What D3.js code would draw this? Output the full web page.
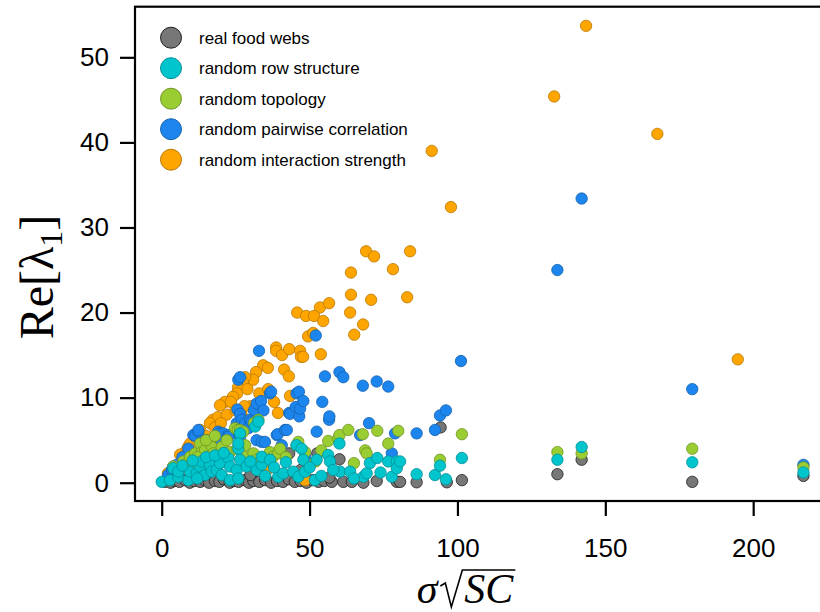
<!DOCTYPE html>
<html>
<head>
<meta charset="utf-8">
<script src="https://cdn.jsdelivr.net/npm/d3@7"></script>
<style>
  body { margin: 0; background: #fff; }
  svg { display: block; }
</style>
</head>
<body>
<div id="chart"></div>
<script>
// ---- data ----
const seriesNames = ["real food webs", "random row structure", "random topology",
                     "random pairwise correlation", "random interaction strength"];
const seriesColors = ["#777777", "#00C5CD", "#9ACD32", "#1C86EE", "#FFA500"];

const realX = [1, 3, 4.5, 6, 8, 9.5, 11, 13, 14.5, 16, 18, 19.5, 21, 23, 24.5, 26, 28, 29.5, 31, 33,
  35, 37, 39, 41, 43, 45, 47, 49, 51, 53, 55, 57.5, 61.4, 64.3, 68.2, 72.7, 79.5, 86.2, 96.4, 101.5,
  43.1, 52.6, 60.1, 56.7, 94.3, 133.8, 142.0, 179.4, 217.0, 47, 30, 80.6];
const realY = [0.1, 0.0, 0.2, 0.1, 0.3, 0.0, 0.2, 0.1, 0.3, 0.0, 0.2, 0.1, 0.4, 0.0, 0.2, 0.1, 0.3, 0.0, 0.2, 0.1,
  0.3, 0.0, 0.2, 0.1, 0.4, 0.1, 0.2, 0.0, 0.3, 0.1, 0.2, 0.1, 0.1, 0.1, 0.0, 0.2, 0.1, 0.05, 0.05, 0.3,
  3.45, 3.45, 2.75, 0.6, 6.5, 1.0, 2.7, 0.1, 0.8, 1.5, 0.9, 0.1];

const rowX = [0.0, 2.8, 3.9, 5.6, 5.6, 9.0, 9.6, 11.8, 13.0, 13.5, 14.6, 16.3, 16.9, 18.6, 19.7, 20.3, 22.5, 23.1,
  23.1, 25.4, 25.9, 25.9, 26.5, 26.5, 28.7, 31.6, 32.7, 32.1, 33.8, 33.8, 36.6, 39.4, 41.1, 44.5, 45.6, 46.2,
  47.3, 47.9, 48.5, 51.8, 52.4, 56.3, 56.9, 60.1, 60.3, 63.7, 68.2, 69.3, 70.4, 72.9, 76.6, 77.8, 79.5, 79.5,
  80.6, 86.2, 92.4, 94.1, 96.1, 101.5, 133.8, 142.0, 179.4, 217.0,
  7, 10.5, 15, 18, 21, 12, 30, 35, 38, 42, 50, 54, 58, 65, 74, 25.9];
const rowY = [0.1, 0.3, 1.7, 0.7, 1.3, 0.3, 1.3, 1.1, 1.9, 2.5, 0.9, 2.1, 1.3, 1.5, 2.3, 0.9, 2.9, 1.9,
  0.3, 1.5, 0.5, 4.0, 2.7, 5.8, 1.9, 6.6, 7.2, 1.5, 2.1, 3.05, 2.7, 0.7, 1.1, 1.3, 4.4, 0.7,
  4.0, 2.7, 1.3, 0.3, 2.7, 3.25, 2.5, 4.6, 1.3, 1.3, 0.7, 1.1, 2.3, 2.9, 2.5, 0.7, 2.5, 1.7,
  2.5, 1.0, 0.9, 2.0, 0.4, 2.9, 2.7, 4.2, 2.4, 1.2,
  2.0, 2.6, 3.0, 3.2, 3.5, 0.5, 2.5, 0.8, 1.8, 2.4, 1.8, 0.8, 1.5, 0.5, 1.2, 4.6];

const topoX = [3.9, 7.3, 8.5, 9.6, 11.3, 13.0, 13.5, 14.6, 16.3, 16.9, 17.5, 20.3, 20.8, 23.1, 24.8, 25.4,
  25.7, 26.5, 27.6, 28.2, 28.7, 31.0, 31.2, 32.1, 32.7, 34.4, 36.6, 37.7, 39.4, 45.6, 46.2, 48.5, 56.3,
  59.7, 60.1, 63.1, 65.0, 68.0, 68.8, 69.3, 72.9, 76.6, 80.0, 94.1, 101.5, 133.8, 142.0, 179.4, 217.0,
  6, 10, 15, 18, 22, 12, 19, 40, 42, 52, 54];
const topoY = [1.9, 2.5, 2.3, 3.05, 3.45, 4.6, 3.6, 3.8, 4.8, 4.2, 3.45, 4.2, 3.45, 3.6, 6.4, 4.0,
  6.2, 6.2, 6.0, 4.4, 3.05, 3.45, 7.0, 2.7, 7.4, 2.9, 3.6, 3.05, 3.45, 4.4, 4.8, 3.6, 4.9,
  5.2, 5.6, 6.2, 2.3, 5.7, 3.8, 3.45, 6.1, 4.6, 6.1, 2.7, 5.7, 3.6, 3.45, 4.0, 1.8,
  1.5, 2.0, 5.0, 5.5, 5.0, 3.0, 2.8, 4.0, 3.0, 2.5, 3.8];

const pairX = [2.2, 3.4, 3.9, 5.1, 10.7, 11.3, 12.4, 12.4, 19.1, 19.7, 20.8, 20.8, 22.5, 22.5, 25.4, 25.4,
  25.6, 25.9, 26.5, 26.5, 26.5, 27.1, 28.2, 29.3, 29.9, 30.4, 31.2, 32.1, 32.1, 32.9, 33.6, 33.8, 34.4,
  34.9, 36.6, 37.0, 38.9, 39.2, 40.6, 41.7, 42.3, 43.1, 43.4, 45.3, 45.6, 46.4, 46.5, 46.8, 47.9, 48.5,
  52.1, 52.4, 54.3, 55.2, 56.6, 56.7, 60.1, 61.4, 67.1, 68.0, 70.1, 72.7, 76.6, 77.8, 78.9, 86.2, 92.4,
  94.1, 96.1, 101.2, 133.8, 142.0, 179.4, 217.0, 7, 9, 15, 17];
const pairY = [0.9, 1.5, 1.9, 2.1, 5.6, 5.5, 6.0, 6.2, 6.0, 5.8, 5.0, 5.8, 5.6, 5.4, 6.6, 7.0,
  8.6, 12.1, 12.4, 5.4, 8.1, 7.4, 7.0, 6.4, 7.4, 7.2, 8.5, 9.3, 5.0, 15.5, 9.6, 4.8, 8.5,
  4.8, 10.5, 10.7, 5.6, 5.7, 4.4, 6.2, 6.2, 8.2, 8.1, 8.9, 10.5, 10.7, 7.8, 8.7, 9.6, 3.05,
  17.3, 6.0, 9.5, 12.5, 7.4, 7.8, 13.0, 12.4, 5.6, 11.4, 7.0, 11.9, 11.3, 3.45, 5.8, 5.8, 6.2,
  7.9, 8.5, 14.3, 25.0, 33.4, 11.0, 2.1, 3.0, 4.0, 5.0, 4.5];

const strengthX = [143.5, 132.7, 167.6, 91.3, 97.8, 84.0, 69.1, 71.8, 78.2, 64.0, 83.0, 70.8, 64.0, 63.7, 68.1,
  65.1, 53.5, 56.6, 45.8, 48.8, 51.5, 54.6, 49.5, 51.2, 38.7, 38.7, 40.7, 43.1, 46.8, 47.1, 47.8, 53.8,
  41.4, 34.3, 35.9, 31.9, 30.9, 28.2, 27.5, 25.8, 25.5, 24.1, 21.4, 19.7, 23.4, 43.4, 39.3, 17.3, 19.0,
  16.3, 18.0, 8.9, 7.9, 6.2, 2.1, 35.6, 48.5, 194.8,
  13.0, 9.6, 7.3, 5.1, 29, 30, 33, 36, 22, 25, 28, 12, 15, 20, 27, 38, 43, 36];
const strengthY = [53.7, 45.4, 41.0, 39.0, 32.4, 27.2, 27.2, 26.6, 25.1, 24.7, 21.8, 21.5, 22.1, 20.0, 18.6,
  17.4, 20.6, 21.1, 20.0, 19.6, 19.6, 19.0, 17.2, 17.6, 15.9, 15.5, 15.0, 15.7, 15.5, 14.8, 14.8, 15.1,
  13.3, 13.8, 13.5, 13.0, 12.1, 12.4, 11.8, 11.2, 10.5, 10.1, 9.5, 9.1, 9.5, 10.2, 8.2, 7.4, 7.7,
  7.0, 6.5, 4.2, 3.6, 3.3, 1.1, 1.5, 0.3, 14.5,
  6.2, 4.6, 3.05, 1.9, 11, 9, 10.5, 11, 8, 8.5, 9, 5, 5.5, 7, 8, 9.5, 12.5, 3.0];

const xTicks = [0, 50, 100, 150, 200];
const yTicks = [0, 10, 20, 30, 40, 50];

// ---- layout ----
const width = 820, height = 612;
const svg = d3.select("#chart").append("svg")
    .attr("width", width)
    .attr("height", height);

const x = d3.scaleLinear().domain([-9.03, 225.3]).range([135, 828]);
const y = d3.scaleLinear().domain([-2.15, 55.95]).range([501, 6.7]);

// points, drawn in order so that grey sits underneath
const layers = [
    { xs: realX, ys: realY, c: 0 },
    { xs: strengthX, ys: strengthY, c: 4 },
    { xs: pairX, ys: pairY, c: 3 },
    { xs: topoX, ys: topoY, c: 2 },
    { xs: rowX, ys: rowY, c: 1 }
];

function strokeFor(i) {
    return i === 0 ? "#1e1e1e" : d3.color(seriesColors[i]).darker(0.9).formatHex();
}

layers.forEach(l => {
    svg.append("g")
        .selectAll("circle")
        .data(l.xs.map((v, i) => [v, l.ys[i]]))
        .enter()
        .append("circle")
        .attr("cx", d => x(d[0]))
        .attr("cy", d => y(d[1]))
        .attr("r", 5.7)
        .attr("fill", seriesColors[l.c])
        .attr("stroke", strokeFor(l.c))
        .attr("stroke-width", 0.8);
});

// frame
svg.append("rect")
    .attr("x", 135).attr("y", 6.7)
    .attr("width", 828 - 135).attr("height", 501 - 6.7)
    .attr("fill", "none")
    .attr("stroke", "#000")
    .attr("stroke-width", 2.2);

// axes
const xAxis = svg.append("g")
    .attr("transform", "translate(0,501)")
    .call(d3.axisBottom(x).tickValues(xTicks).tickSize(15).tickSizeOuter(0).tickPadding(23));
const yAxis = svg.append("g")
    .attr("transform", "translate(135,0)")
    .call(d3.axisLeft(y).tickValues(yTicks).tickSize(15).tickSizeOuter(0).tickPadding(11));

[xAxis, yAxis].forEach(a => {
    a.select(".domain").remove();
    a.selectAll(".tick line").attr("stroke", "#000").attr("stroke-width", 2.2);
    a.selectAll(".tick text")
        .attr("fill", "#000")
        .style("font-family", "'Liberation Sans', Arial, sans-serif")
        .style("font-size", "26px");
});

// legend
const legend = svg.append("g");
seriesNames.forEach((name, i) => {
    const cy = 37.7 + i * 30.5;
    legend.append("circle")
        .attr("cx", 171).attr("cy", cy).attr("r", 10.5)
        .attr("fill", seriesColors[i])
        .attr("stroke", strokeFor(i))
        .attr("stroke-width", 1);
    legend.append("text")
        .attr("x", 199).attr("y", cy + 6)
        .style("font-family", "'Liberation Sans', Arial, sans-serif")
        .style("font-size", "17px")
        .attr("fill", "#000")
        .text(name);
});

// axis titles
const serif = "'Liberation Serif', 'DejaVu Serif', serif";

const yTitle = svg.append("text")
    .attr("transform", "translate(53,277) rotate(-90)")
    .attr("text-anchor", "middle")
    .style("font-family", serif)
    .style("font-size", "48px")
    .attr("fill", "#000");
yTitle.append("tspan").text("Re[λ");
yTitle.append("tspan").attr("dy", 9).style("font-size", "32px").text("1");
yTitle.append("tspan").attr("dy", -9).text("]");

// x title: sigma sqrt(SC), radical drawn as a path with a bar over SC
const xt = svg.append("g");
const base = 603;
const sig = xt.append("text")
    .attr("x", 0).attr("y", base)
    .style("font-family", serif).style("font-style", "italic").style("font-size", "42px")
    .text("σ");
const sigW = sig.node().getComputedTextLength();
const r0 = sigW + 3;
const sc = xt.append("text")
    .attr("x", r0 + 24).attr("y", base)
    .style("font-family", serif).style("font-style", "italic").style("font-size", "42px")
    .text("SC");
const scW = sc.node().getComputedTextLength();
const right = r0 + 24 + scW + 2;
xt.append("path")
    .attr("d", `M${r0},${base - 17} L${r0 + 5},${base - 20} L${r0 + 11},${base + 4} L${r0 + 22},${base - 33} L${right},${base - 33}`)
    .attr("fill", "none")
    .attr("stroke", "#000")
    .attr("stroke-width", 1.6)
    .attr("stroke-linejoin", "miter");
xt.attr("transform", `translate(${466 - right / 2},0)`);
</script>
</body>
</html>
